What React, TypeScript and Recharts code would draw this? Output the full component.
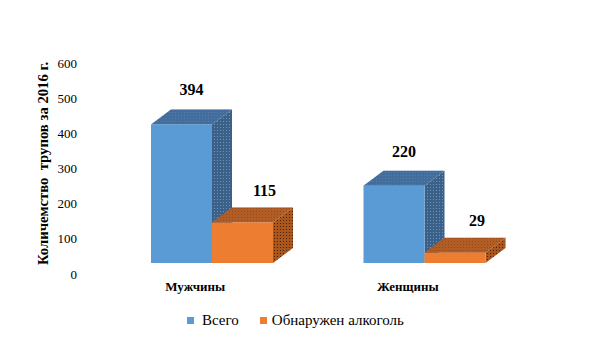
import { BarChart, Bar, XAxis, YAxis, LabelList } from 'recharts'

const categories = ['Мужчины', 'Женщины']
const totalValues = [394, 220]
const alcoholValues = [115, 29]
const yTicks = [0, 100, 200, 300, 400, 500, 600]

const seriesNames = { total: 'Всего', alcohol: 'Обнаружен алкоголь' }
const yTitle = 'Количемство  трупов за 2016 г.'

const data = categories.map((name, i) => ({
  name,
  total: totalValues[i],
  alcohol: alcoholValues[i],
}))

const FONT = '"Liberation Serif", serif'
// 3D depth of the boxes, and how far the front face sits above the axis zero
const DX = 20
const DY = 15
const LIFT = 11

const palette = {
  total: { front: '#5B9BD5', top: '#4674A6', side: '#3C6189', dot: '#6f93bb', pid: 'dotsBlue' },
  alcohol: { front: '#ED7D31', top: '#B9612A', side: '#A9561F', dot: '#4a2208', pid: 'dotsOrange' },
}

function make3D(c: typeof palette.total) {
  return (props: any) => {
    const { x, width, height } = props
    if (!height || height <= 0) return <g />
    const y = props.y - LIFT
    const r = x + width
    const b = y + height
    return (
      <g>
        <defs>
          <pattern id={c.pid} width="3" height="3" patternUnits="userSpaceOnUse">
            <rect width="3" height="3" fill={c.side} />
            <rect x="1" y="1" width="1" height="1" fill={c.dot} />
          </pattern>
        </defs>
        <polygon points={`${r},${y} ${r + DX},${y - DY} ${r + DX},${b - DY} ${r},${b}`} fill={`url(#${c.pid})`} />
        <polygon points={`${x},${y} ${x + DX},${y - DY} ${r + DX},${y - DY} ${r},${y}`} fill={c.top} />
        <polygon points={`${x},${y} ${x + DX},${y - DY} ${r + DX},${y - DY} ${r},${y}`} fill={`url(#${c.pid})`} opacity={0.35} />
        <rect x={x} y={y} width={width} height={height} fill={c.front} />
      </g>
    )
  }
}

function valueLabel(offX: number, offY: number) {
  return (props: any) => {
    const { x, y, width, value } = props
    return (
      <text x={x + width / 2 + offX} y={y - LIFT - offY} textAnchor="middle"
        fontFamily={FONT} fontWeight="bold" fontSize={16} fill="#000">
        {value}
      </text>
    )
  }
}

export default function App() {
  return (
    <div style={{ position: 'absolute', left: 0, top: 0, width: 600, height: 341, background: '#fff' }}>
      <BarChart
        width={600}
        height={341}
        data={data}
        margin={{ top: 63, right: 69, bottom: 37, left: 0 }}
        barCategoryGap={45}
        barGap={0}
      >
        <XAxis
          dataKey="name"
          axisLine={false}
          tickLine={false}
          height={30}
          tickMargin={2}
          tick={{ fontFamily: FONT, fontWeight: 'bold', fontSize: 13, fill: '#000', dx: -17 }}
        />
        <YAxis
          type="number"
          domain={[0, 600]}
          ticks={yTicks}
          width={106}
          axisLine={false}
          tickLine={false}
          tickSize={6}
          tickMargin={23}
          tick={{ fontFamily: FONT, fontSize: 13, fill: '#000' }}
          label={({ viewBox }: any) => {
            const cy = viewBox.y + viewBox.height / 2 - 5
            return (
              <text
                x={43}
                y={cy}
                transform={`rotate(-90, 43, ${cy})`}
                textAnchor="middle"
                dominantBaseline="central"
                fontFamily={FONT}
                fontWeight="bold"
                fontSize={14.7}
                fill="#000"
                style={{ whiteSpace: 'pre' }}
              >
                {yTitle}
              </text>
            )
          }}
        />
        <Bar dataKey="total" name={seriesNames.total} isAnimationActive={false}
          shape={make3D(palette.total)}>
          <LabelList dataKey="total" content={valueLabel(10, 29)} />
        </Bar>
        <Bar dataKey="alcohol" name={seriesNames.alcohol} isAnimationActive={false}
          shape={make3D(palette.alcohol)}>
          <LabelList dataKey="alcohol" content={valueLabel(22, 27)} />
        </Bar>
      </BarChart>
      <div style={{
        position: 'absolute', left: 187, top: 311, display: 'flex', alignItems: 'center',
        fontFamily: FONT, fontSize: 15, color: '#000', lineHeight: '18px',
      }}>
        <span style={{ width: 7, height: 7, background: palette.total.front, marginRight: 8 }} />
        <span style={{ marginRight: 21 }}>{seriesNames.total}</span>
        <span style={{ width: 7, height: 7, background: palette.alcohol.front, marginRight: 5 }} />
        <span>{seriesNames.alcohol}</span>
      </div>
    </div>
  )
}
